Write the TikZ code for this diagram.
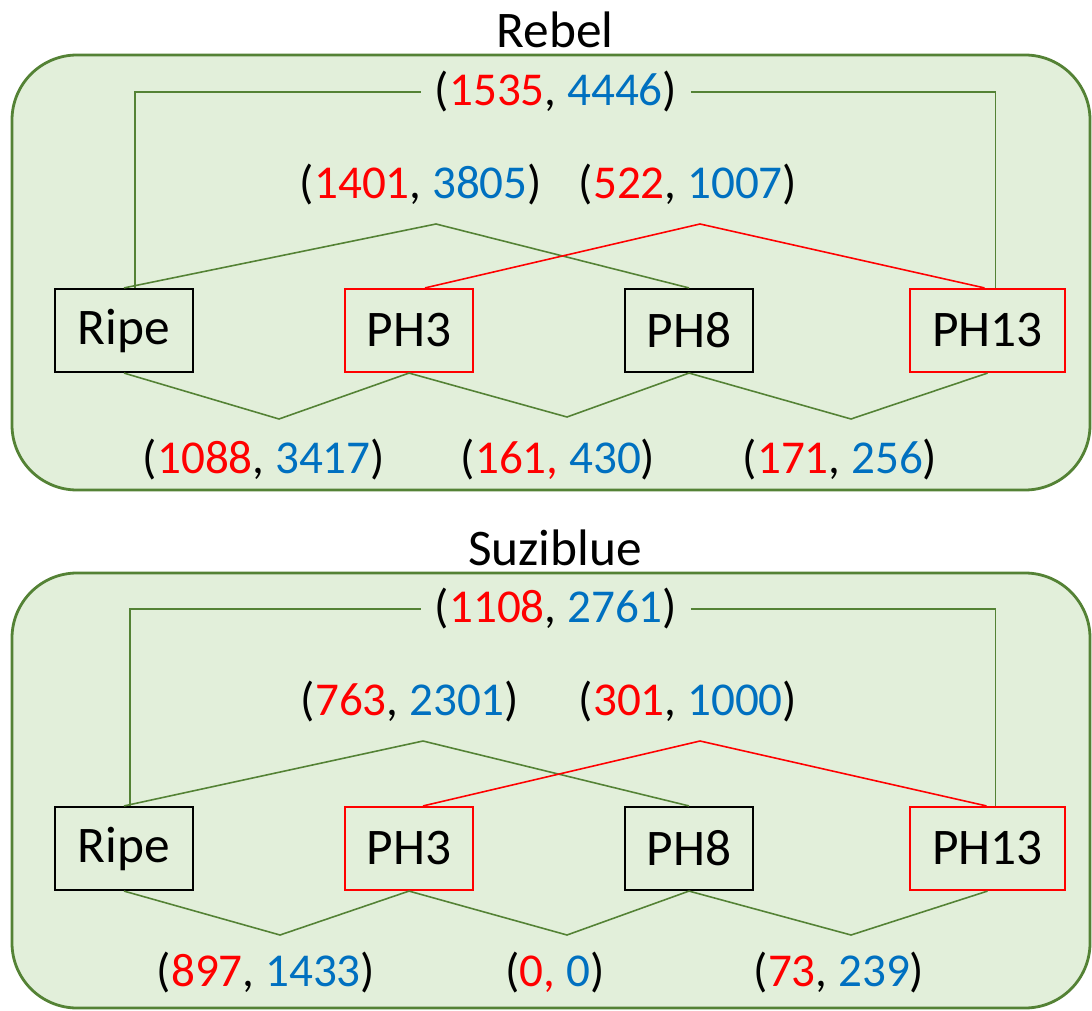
\documentclass[tikz,border=0pt]{standalone}
\usepackage{fontspec}
\setmainfont{Carlito}
\usetikzlibrary{calc}
\definecolor{pgreen}{HTML}{548235}
\definecolor{pfill}{HTML}{E2EFDA}
\definecolor{pred}{HTML}{FF0000}
\definecolor{pblue}{HTML}{0070C0}
\newcommand\mylabfont{\fontsize{13.4}{16}\selectfont}
\newcommand\myboxfont{\fontsize{14.6}{17}\selectfont}
\newcommand\mypair[2]{(\textcolor{pred}{#1}, \textcolor{pblue}{#2})}
\newcommand\mypairr[2]{(\textcolor{pred}{#1,} \textcolor{pblue}{#2})}
\begin{document}
\begin{tikzpicture}[x=0.01cm,y=-0.01cm,
  panel/.style={draw=pgreen, fill=pfill, line width=0.8pt, rounded corners=0.65cm},
  catbox/.style={line width=0.6pt, minimum height=0.83cm, inner sep=0pt, font=\myboxfont},
  redbox/.style={catbox, draw=pred},
  blkbox/.style={catbox, draw=black},
  lab/.style={font=\mylabfont, inner sep=0.13cm},
  ttl/.style={font=\myboxfont, inner sep=0pt},
  gline/.style={draw=pgreen, line width=0.45pt},
  rline/.style={draw=pred, line width=0.45pt}]
\useasboundingbox (0,0) rectangle (1092,1010);

% ================= Rebel =================
\node[ttl] (titleA) at (555,30) {Rebel};
\draw[panel] (12,55) rectangle (1090,490);

\node[blkbox, minimum width=1.38cm] (ripeA) at (124,330.5) {Ripe};
\node[redbox, minimum width=1.28cm] (ph3A) at (409,330.5) {PH3};
\node[blkbox, minimum width=1.28cm] (ph8A) at (689,330.5) {PH8};
\node[redbox, minimum width=1.55cm] (ph13A) at (987.5,330.5) {PH13};

\node[lab] (topA) at (556,92) {\mypair{1535}{4446}};
\draw[gline] ($(ripeA.north)+(11,0)$) |- (topA.west);
\draw[gline] (topA.east) -| ($(ph13A.north)+(8,0)$);

\node[lab] (mlA) at (421,185) {\mypair{1401}{3805}};
\node[lab] (mrA) at (688,185) {\mypair{522}{1007}};
\coordinate (gpA) at (436,224);
\coordinate (rpA) at (700,224);
\draw[gline] (ripeA.north) -- (gpA) -- (ph8A.north);
\draw[rline] ($(ph3A.north)+(16,0)$) -- (rpA) -- ($(ph13A.north)+(-3,0)$);

\coordinate (v1A) at (279,419);
\coordinate (v2A) at (567,417);
\coordinate (v3A) at (851,419);
\draw[gline] (ripeA.south) -- (v1A) -- (ph3A.south) -- (v2A) -- (ph8A.south) -- (v3A) -- (ph13A.south);

\node[lab] (b1A) at (264,460) {\mypair{1088}{3417}};
\node[lab] (b2A) at (558,460) {\mypairr{161}{430}};
\node[lab] (b3A) at (840,460) {\mypair{171}{256}};

% ================= Suziblue =================
\node[ttl] (titleB) at (555,548) {Suziblue};
\draw[panel] (12,573) rectangle (1090,1008);

\node[blkbox, minimum width=1.38cm] (ripeB) at (124,848.5) {Ripe};
\node[redbox, minimum width=1.28cm] (ph3B) at (409,848.5) {PH3};
\node[blkbox, minimum width=1.28cm] (ph8B) at (689,848.5) {PH8};
\node[redbox, minimum width=1.55cm] (ph13B) at (987.5,848.5) {PH13};

\node[lab] (topB) at (556,609) {\mypair{1108}{2761}};
\draw[gline] ($(ripeB.north)+(6,0)$) |- (topB.west);
\draw[gline] (topB.east) -| ($(ph13B.north)+(8,0)$);

\node[lab] (mlB) at (410,702) {\mypair{763}{2301}};
\node[lab] (mrB) at (688,702) {\mypair{301}{1000}};
\coordinate (gpB) at (423,741);
\coordinate (rpB) at (700,741);
\draw[gline] (ripeB.north) -- (gpB) -- (ph8B.north);
\draw[rline] ($(ph3B.north)+(14,0)$) -- (rpB) -- ($(ph13B.north)+(-1,0)$);

\coordinate (v1B) at (280,935);
\coordinate (v2B) at (567,935);
\coordinate (v3B) at (851,935);
\draw[gline] (ripeB.south) -- (v1B) -- (ph3B.south) -- (v2B) -- (ph8B.south) -- (v3B) -- (ph13B.south);

\node[lab] (b1B) at (266,973) {\mypair{897}{1433}};
\node[lab] (b2B) at (555,973) {\mypairr{0}{0}};
\node[lab] (b3B) at (839,973) {\mypair{73}{239}};
\end{tikzpicture}
\end{document}
